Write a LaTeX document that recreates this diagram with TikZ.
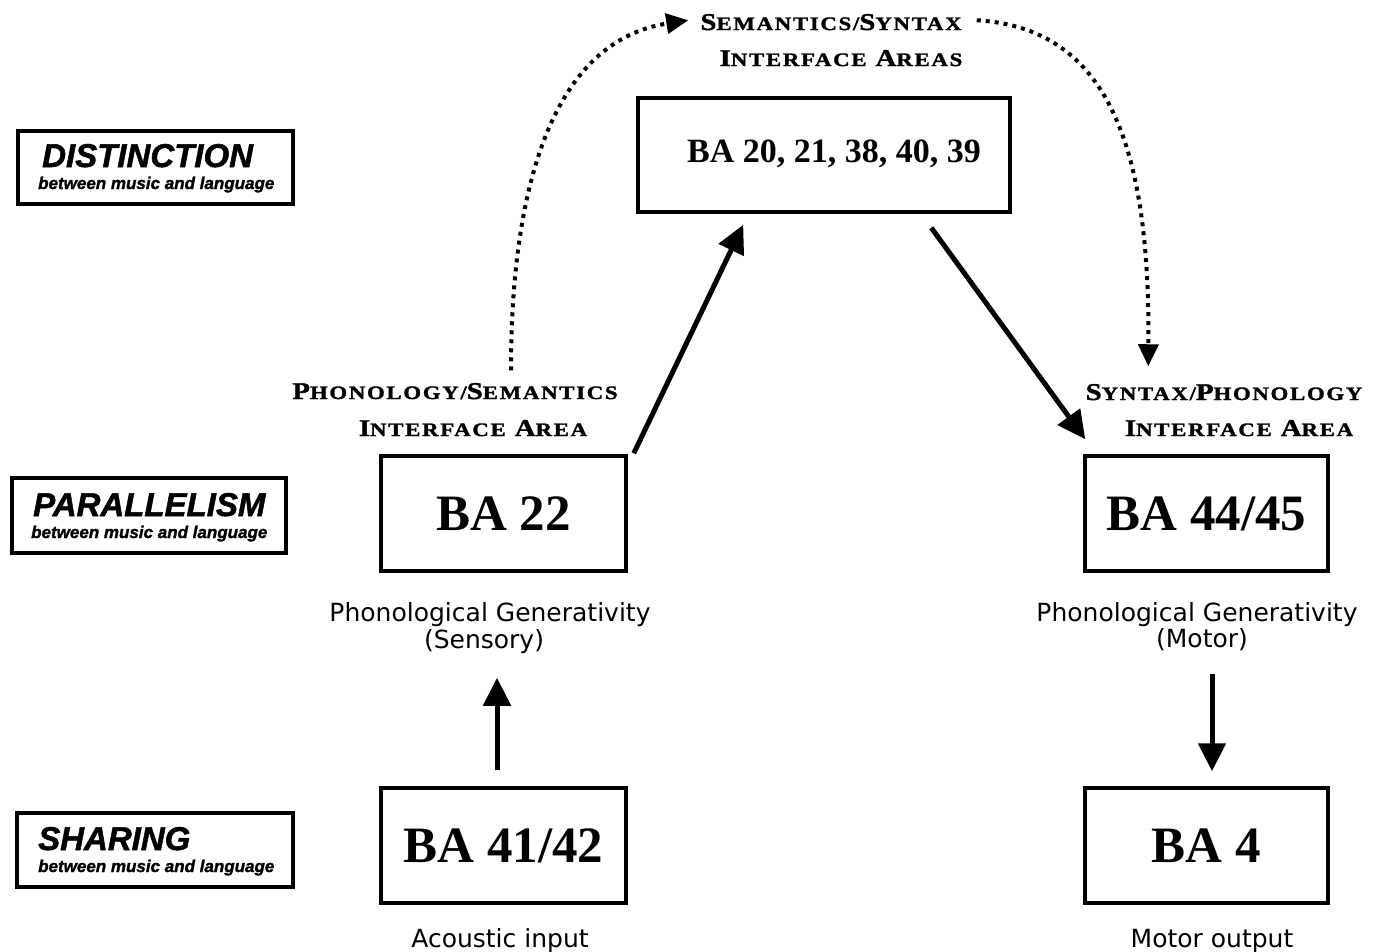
\documentclass[tikz,border=0pt]{standalone}
\usepackage{fontspec}
\setmainfont{Liberation Serif}
\newfontfamily\labsans{DejaVu Sans}
\newfontfamily\hdsans{Liberation Sans}[BoldItalicFeatures={FakeBold=1.5}]
\newfontfamily\cpf{Liberation Serif}[FakeStretch=1.2, LetterSpace=9, BoldFeatures={FakeBold=1.6}]
\usetikzlibrary{arrows.meta,calc}
\newcommand\cpB[1]{{\fontsize{24}{24}\selectfont #1}}
\newcommand\cpS[1]{{\fontsize{19}{19}\selectfont #1}}
\newcommand\cpw[2]{\cpB{#1}\cpS{#2}}
\newcommand\cpsp{\hspace{9pt}}
\tikzset{
  box/.style={draw, line width=3.5pt, inner sep=0pt},
  bigba/.style={font=\bfseries\fontsize{51}{51}\selectfont},
  arr/.style={line width=5pt, -{Triangle[length=28pt,width=27pt]}},
  dots/.style={line width=4pt, dash pattern=on 4pt off 5pt, -{Triangle[length=22pt,width=20pt]}},
  hd/.style={anchor=base west, inner sep=0pt, font=\hdsans\bfseries\itshape\fontsize{33}{33}\selectfont},
  sub/.style={anchor=base west, inner sep=0pt, font=\hdsans\bfseries\itshape\fontsize{17}{17}\selectfont},
  lab/.style={anchor=base, inner sep=0pt, font=\labsans\fontsize{25}{25}\selectfont},
  cp/.style={anchor=base, inner sep=0pt, font=\cpf\bfseries}
}
\begin{document}
\begin{tikzpicture}[x=1pt,y=-1pt]
\useasboundingbox (0,0) rectangle (1383,951);
% left category boxes
\node[box, minimum width=275pt, minimum height=73pt] (dist) at (155.5,167.5) {};
\node[hd] (distA) at (42,167) {DISTINCTION};
\node[sub] (distB) at (38,189) {between music and language};
\node[box, minimum width=274pt, minimum height=75pt] (para) at (149,515.5) {};
\node[hd] (paraA) at (33,516) {PARALLELISM};
\node[sub] (paraB) at (31,538) {between music and language};
\node[box, minimum width=276pt, minimum height=74pt] (share) at (155,850) {};
\node[hd] (shareA) at (38,850) {SHARING};
\node[sub] (shareB) at (38,872) {between music and language};
% BA boxes
\node[box, minimum width=372pt, minimum height=114pt] (ba2040) at (824,155) {};
\node[inner sep=0pt, font=\bfseries\fontsize{34}{34}\selectfont] (ba2040t) at (834,154) {BA 20, 21, 38, 40, 39};
\node[box, bigba, minimum width=245pt, minimum height=115pt] (ba22) at (503.5,513.5) {BA 22};
\node[box, bigba, minimum width=243pt, minimum height=115pt] (ba4445) at (1206.5,513.5) {BA 44/45};
\node[box, bigba, minimum width=245pt, minimum height=115pt] (ba4142) at (503.5,845.5) {BA 41/42};
\node[box, bigba, minimum width=243pt, minimum height=115pt] (ba4) at (1206.5,845.5) {BA 4};
% interface labels
\node[cp] (ss1) at (831,30) {\cpw{S}{EMANTICS/}\cpw{S}{YNTAX}};
\node[cp] (ss2) at (841,66) {\cpw{I}{NTERFACE}\cpsp\cpw{A}{REAS}};
\node[cp] (ps1) at (455,399) {\cpw{P}{HONOLOGY/}\cpw{S}{EMANTICS}};
\node[cp] (ps2) at (473,436) {\cpw{I}{NTERFACE}\cpsp\cpw{A}{REA}};
\node[cp] (sp1) at (1224,400) {\cpw{S}{YNTAX/}\cpw{P}{HONOLOGY}};
\node[cp] (sp2) at (1239,436) {\cpw{I}{NTERFACE}\cpsp\cpw{A}{REA}};
% descriptive labels
\node[lab] (sens1) at (490,621) {Phonological Generativity};
\node[lab] (sens2) at (484,648) {(Sensory)};
\node[lab] (mot1) at (1197,621) {Phonological Generativity};
\node[lab] (mot2) at (1202,647) {(Motor)};
\node[lab] (acin) at (500,947) {Acoustic input};
\node[lab] (moout) at (1212,947) {Motor output};
% solid arrows
\draw[arr] ($(ba22.north east)+(6,-1)$) -- ($(ba2040.south west)+(107,11)$);
\draw[arr] ($(ba2040.south west)+(295,14)$) -- ($(ba4445.north west)+(2,-15)$);
\draw[arr] ($(ba4142.north)+(-6.5,-16)$) -- ($(ba22.south)+(-6.5,105)$);
\draw[arr] ($(ba4445.south)+(5.5,101)$) -- ($(ba4.north)+(5.5,-15)$);
% dotted arrows
\draw[dots] ($(ba22.north)+(7.5,-84)$) .. controls (511,170) and (560,40) .. ($(ba2040.north west)+(52,-76)$);
\draw[dots] ($(ba2040.north east)+(-35,-76)$) .. controls (1110,28) and (1150,150) .. ($(ba4445.north west)+(65,-88)$);
\end{tikzpicture}
\end{document}
